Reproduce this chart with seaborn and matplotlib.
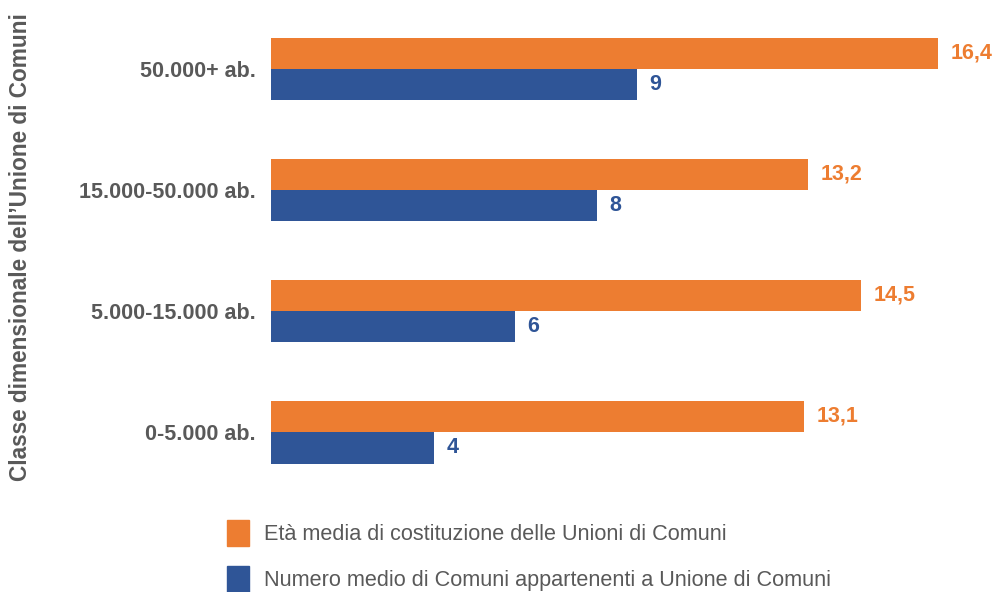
import pandas as pd
import matplotlib.pyplot as plt
import seaborn as sns

# dati
classi = ['50.000+ ab.', '15.000-50.000 ab.', '5.000-15.000 ab.', '0-5.000 ab.']
eta_media = [16.4, 13.2, 14.5, 13.1]
num_comuni = [9, 8, 6, 4]
serie = ['Età media di costituzione delle Unioni di Comuni',
         'Numero medio di Comuni appartenenti a Unione di Comuni']
colori = ['#ED7D31', '#2F5597']
grigio = '#595959'

df = pd.DataFrame({
    'classe': classi * 2,
    'valore': eta_media + num_comuni,
    'serie': [serie[0]] * 4 + [serie[1]] * 4,
})

sns.set_theme(style='white')
plt.rcParams['font.family'] = ['Liberation Sans', 'DejaVu Sans']

fig = plt.figure(figsize=(9.95, 5.92), dpi=100)
ax = fig.add_axes([0.2724, 0.168, 0.7156, 0.8176])

sns.barplot(data=df, y='classe', x='valore', hue='serie', orient='h',
            palette=colori, saturation=1, width=0.52, dodge=True, ax=ax,
            legend=False, linewidth=0)

for cont, col, fmt in zip(ax.containers, colori,
                          [lambda v: f'{v:.1f}'.replace('.', ','), lambda v: f'{v:g}']):
    ax.bar_label(cont, labels=[fmt(b.get_width()) for b in cont],
                 padding=9, color=col, fontsize=15.5, fontweight='bold')

ax.set_xlim(0, 17.5)
ax.set_ylim(3.5, -0.5)
ax.set_xticks([])
ax.set_xlabel('')
ax.set_ylabel('Classe dimensionale dell\u2019Unione di Comuni', fontsize=16.3,
              fontweight='bold', color=grigio, labelpad=0)
ax.yaxis.set_label_coords(-0.336, 0.507)
ax.tick_params(axis='y', length=0, pad=11, labelsize=15.5, labelcolor=grigio)
for t in ax.get_yticklabels():
    t.set_fontweight('bold')
sns.despine(ax=ax, left=True, bottom=True)

handles = [plt.Rectangle((0, 0), 1, 1, color=c) for c in colori]
fig.legend(handles, serie, loc='upper left', bbox_to_anchor=(0.228, 0.122),
           frameon=False, fontsize=15.6, handlelength=1.0, handleheight=1.5,
           handletextpad=0.7, labelspacing=0.9, labelcolor=grigio,
           borderaxespad=0, borderpad=0)

fig.savefig('out.png', dpi=100)
